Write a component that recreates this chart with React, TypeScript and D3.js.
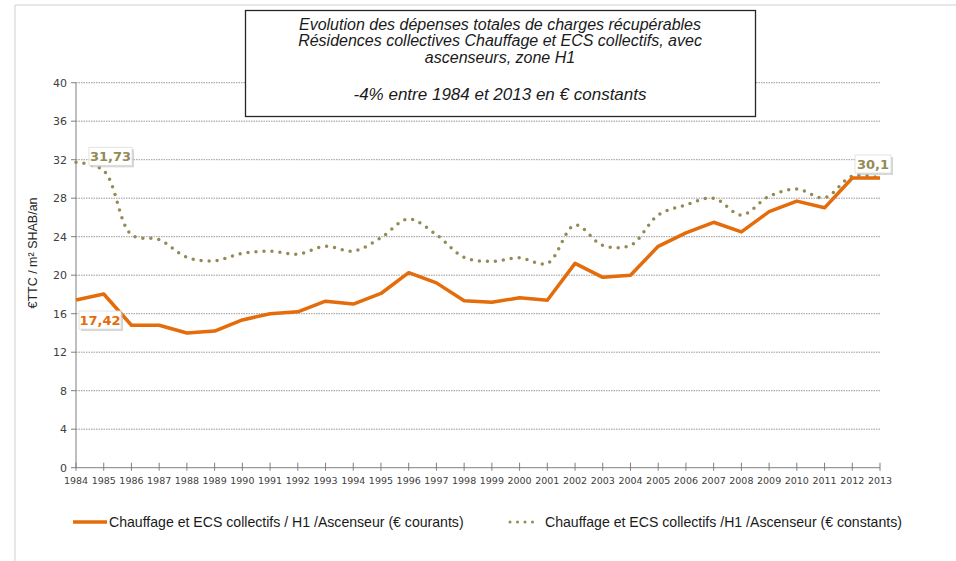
import React from "react";
import * as d3 from "d3";

const years = [1984,1985,1986,1987,1988,1989,1990,1991,1992,1993,1994,1995,1996,1997,1998,1999,2000,2001,2002,2003,2004,2005,2006,2007,2008,2009,2010,2011,2012,2013];
const courants = [17.42,18.05,14.8,14.8,14.0,14.2,15.35,16.0,16.2,17.3,17.0,18.1,20.26,19.2,17.35,17.18,17.66,17.39,21.23,19.78,20.0,23.0,24.4,25.5,24.5,26.6,27.7,27.0,30.1,30.1];
const constants = [31.73,30.86,24.2,23.7,21.86,21.5,22.27,22.5,22.2,23.0,22.5,23.9,25.84,24.2,21.86,21.44,21.8,21.23,25.2,23.1,23.1,26.25,27.3,28.0,26.25,28.2,28.95,28.05,30.3,30.1];
const yTicks = [0,4,8,12,16,20,24,28,32,36,40];
const titleLines = [
  "Evolution des dépenses totales de charges récupérables",
  "Résidences collectives Chauffage et ECS collectifs, avec",
  "ascenseurs, zone H1",
];
const subtitle = "-4% entre 1984 et 2013 en € constants";
const legendLabels = [
  "Chauffage et ECS collectifs / H1 /Ascenseur (€ courants)",
  "Chauffage et ECS collectifs /H1 /Ascenseur (€ constants)",
];
const yLabel = "€TTC / m² SHAB/an";
const labelFirstConst = "31,73";
const labelFirstCour = "17,42";
const labelLastConst = "30,1";

const ORANGE = "#E46C0A";
const OLIVE = "#948A54";

export default function App() {
  const W = 956, H = 561;
  const x = d3.scaleLinear().domain([1984, 2013]).range([76, 880]);
  const y = d3.scaleLinear().domain([0, 40]).range([467.7, 82.7]);
  const lineCour = d3.line<number>().x((_, i) => x(years[i])).y(d => y(d));
  const lineConst = d3.line<number>().x((_, i) => x(years[i])).y(d => y(d)).curve(d3.curveCatmullRom.alpha(0.5));
  const font = "'Liberation Sans', Arial, sans-serif";
  const tickFont = "'DejaVu Sans', Verdana, sans-serif";

  const labelBox = (cx: number, cy: number, w: number, text: string, color: string) => (
    <g>
      <rect x={cx - w / 2 + 2} y={cy - 9 + 2} width={w} height={18} fill="#bbb" opacity={0.6} />
      <rect x={cx - w / 2} y={cy - 9} width={w} height={18} fill="#fff" stroke="#ddd" strokeWidth={0.8} />
      <text x={cx} y={cy + 5} textAnchor="middle" fontFamily={tickFont} fontWeight="bold" fontSize={13} fill={color}>{text}</text>
    </g>
  );

  return (
    <svg width={W} height={H} style={{ position: "absolute", left: 0, top: 0, background: "#fff" }}>
      <rect x={0} y={0} width={W} height={H} fill="#fff" />
      <line x1={15} y1={5} x2={W} y2={5} stroke="#d0d0d0" strokeWidth={1} />
      <line x1={15} y1={5} x2={15} y2={H} stroke="#d0d0d0" strokeWidth={1} />

      {yTicks.filter(t => t > 0).map(t => (
        <line key={"g" + t} x1={x(1984)} x2={x(2013)} y1={y(t)} y2={y(t)} stroke="#7f7f7f" strokeWidth={0.8} strokeDasharray="1.5,1" />
      ))}
      {/* y axis */}
      <line x1={x(1984)} x2={x(1984)} y1={y(40)} y2={y(0)} stroke="#7f7f7f" strokeWidth={1} />
      {yTicks.map(t => (
        <g key={"yt" + t}>
          <line x1={x(1984) - 5} x2={x(1984)} y1={y(t)} y2={y(t)} stroke="#7f7f7f" />
          <text x={x(1984) - 9} y={y(t) + 4} textAnchor="end" fontFamily={tickFont} fontSize={11} fill="#404040">{t}</text>
        </g>
      ))}
      {/* x axis */}
      <line x1={x(1984)} x2={x(2013)} y1={y(0)} y2={y(0)} stroke="#7f7f7f" strokeWidth={1} />
      {years.map(yr => (
        <g key={"xt" + yr}>
          <line x1={x(yr)} x2={x(yr)} y1={y(0) - 5} y2={y(0) + 3} stroke="#7f7f7f" />
          <text x={x(yr)} y={y(0) + 16} textAnchor="middle" fontFamily={tickFont} fontSize={9.5} fill="#404040">{yr}</text>
        </g>
      ))}
      <text transform={`translate(37,253) rotate(-90)`} textAnchor="middle" fontFamily={font} fontSize={12.5} fill="#262626">{yLabel}</text>

      <path d={lineConst(constants) || ""} fill="none" stroke={OLIVE} strokeWidth={3.5} strokeLinecap="round" strokeDasharray="0,8" />
      <path d={lineCour(courants) || ""} fill="none" stroke={ORANGE} strokeWidth={3.5} strokeLinejoin="round" />

      {labelBox(110.5, y(constants[0]) - 6, 43, labelFirstConst, OLIVE)}
      {labelBox(100, y(courants[0]) + 20, 42, labelFirstCour, ORANGE)}
      {labelBox(873, y(constants[29]) - 14, 36, labelLastConst, OLIVE)}

      {/* title box */}
      <rect x={245.5} y={10.5} width={510} height={106} fill="#fff" stroke="#262626" strokeWidth={1.3} />
      {titleLines.map((l, i) => (
        <text key={"t" + i} x={500} y={29.5 + i * 16.5} textAnchor="middle" fontFamily={font} fontStyle="italic" fontSize={16} fill="#1a1a1a">{l}</text>
      ))}
      <text x={500} y={100} textAnchor="middle" fontFamily={font} fontStyle="italic" fontSize={17} fill="#1a1a1a">{subtitle}</text>

      {/* legend */}
      <line x1={73} x2={107} y1={522} y2={522} stroke={ORANGE} strokeWidth={3.5} />
      <text x={109} y={527} fontFamily={font} fontSize={14.1} fill="#1a1a1a">{legendLabels[0]}</text>
      <line x1={510} x2={540} y1={522} y2={522} stroke={OLIVE} strokeWidth={3} strokeLinecap="round" strokeDasharray="0,7.5" />
      <text x={545} y={527} fontFamily={font} fontSize={14.1} fill="#1a1a1a">{legendLabels[1]}</text>
    </svg>
  );
}
